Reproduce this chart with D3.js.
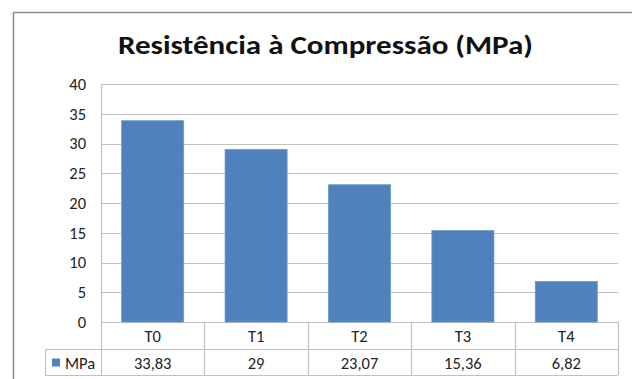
<!DOCTYPE html>
<html>
<head>
<meta charset="utf-8">
<script src="https://cdn.jsdelivr.net/npm/d3@7"></script>
<style>
  body { margin: 0; background: #fff; }
  svg { display: block; }
</style>
</head>
<body>
<div id="chart"></div>
<script>
const categories = ['T0', 'T1', 'T2', 'T3', 'T4']
const values = [33.83, 29, 23.07, 15.36, 6.82]
const valueLabels = ['33,83', '29', '23,07', '15,36', '6,82']
const yTicks = [0, 5, 10, 15, 20, 25, 30, 35, 40]
const seriesName = 'MPa'
const title = 'Resistência à Compressão (MPa)'

const width = 632
const height = 379
const plot = { left: 101, right: 618, top: 84, bottom: 322 }
const font = 'Carlito, Calibri, "Open Sans", sans-serif'
const fontSize = '16.5px'
const barColor = '#4f81bd'
const gridColor = '#c0c0c0'
const textColor = '#222'

const svg = d3.select('#chart')
  .append('svg')
  .attr('width', width)
  .attr('height', height)

// outer chart border (runs off the right/bottom edge)
svg.append('rect')
  .attr('x', 13.5)
  .attr('y', 12.5)
  .attr('width', 700)
  .attr('height', 400)
  .attr('fill', '#fff')
  .attr('stroke', '#8c8c8c')
  .attr('stroke-width', 1.5)

svg.append('text')
  .attr('x', 325.5)
  .attr('y', 54)
  .attr('text-anchor', 'middle')
  .attr('font-family', font)
  .attr('font-size', '26px')
  .attr('font-weight', '700')
  .attr('fill', '#111')
  .attr('textLength', 415)
  .attr('lengthAdjust', 'spacingAndGlyphs')
  .text(title)

const x = d3.scaleBand()
  .domain(categories)
  .range([plot.left, plot.right])
  .paddingInner(0.4)
  .paddingOuter(0.2)

const xCol = d3.scaleBand()
  .domain(categories)
  .range([plot.left, plot.right])

const y = d3.scaleLinear()
  .domain([0, 40])
  .range([plot.bottom, plot.top])

// gridlines
svg.append('g')
  .selectAll('line')
  .data(yTicks)
  .join('line')
  .attr('x1', plot.left)
  .attr('x2', plot.right)
  .attr('y1', d => Math.round(y(d)) + 0.5)
  .attr('y2', d => Math.round(y(d)) + 0.5)
  .attr('stroke', gridColor)
  .attr('stroke-width', 1.2)

// y axis line
svg.append('line')
  .attr('x1', plot.left + 0.5)
  .attr('x2', plot.left + 0.5)
  .attr('y1', plot.top)
  .attr('y2', plot.bottom)
  .attr('stroke', gridColor)
  .attr('stroke-width', 1.2)

// y labels
svg.append('g')
  .selectAll('text')
  .data(yTicks)
  .join('text')
  .attr('x', 86)
  .attr('y', d => y(d))
  .attr('dy', '0.35em')
  .attr('text-anchor', 'end')
  .attr('font-family', font)
  .attr('font-size', fontSize)
  .attr('fill', textColor)
  .text(d => d)

// bars
svg.append('g')
  .selectAll('rect')
  .data(values)
  .join('rect')
  .attr('x', (d, i) => x(categories[i]))
  .attr('y', d => y(d))
  .attr('width', x.bandwidth())
  .attr('height', d => y(0) - y(d))
  .attr('fill', barColor)
  .attr('stroke', '#6f97c9')
  .attr('stroke-width', 0.8)

// data table
const row1 = 349
const row2 = 375
const table = svg.append('g')
  .attr('stroke', gridColor)
  .attr('stroke-width', 1.2)
  .attr('fill', 'none')

table.append('line')
  .attr('x1', 45).attr('x2', plot.right)
  .attr('y1', row1 + 0.5).attr('y2', row1 + 0.5)
table.append('line')
  .attr('x1', 45).attr('x2', plot.right)
  .attr('y1', row2 + 0.5).attr('y2', row2 + 0.5)
table.append('line')
  .attr('x1', 45.5).attr('x2', 45.5)
  .attr('y1', row1).attr('y2', row2)
table.selectAll('line.col')
  .data(categories.concat(['end']))
  .join('line')
  .attr('class', 'col')
  .attr('x1', d => Math.round(d === 'end' ? plot.right : xCol(d)) + 0.5)
  .attr('x2', d => Math.round(d === 'end' ? plot.right : xCol(d)) + 0.5)
  .attr('y1', plot.bottom)
  .attr('y2', row2)

svg.append('g')
  .selectAll('text')
  .data(categories)
  .join('text')
  .attr('x', d => xCol(d) + xCol.bandwidth() / 2)
  .attr('y', (plot.bottom + row1) / 2 + 1)
  .attr('dy', '0.35em')
  .attr('text-anchor', 'middle')
  .attr('font-family', font)
  .attr('font-size', fontSize)
  .attr('fill', textColor)
  .text(d => d)

const row2Mid = (row1 + row2) / 2 + 1
svg.append('g')
  .selectAll('text')
  .data(valueLabels)
  .join('text')
  .attr('x', (d, i) => xCol(categories[i]) + xCol.bandwidth() / 2)
  .attr('y', row2Mid)
  .attr('dy', '0.35em')
  .attr('text-anchor', 'middle')
  .attr('font-family', font)
  .attr('font-size', fontSize)
  .attr('fill', textColor)
  .text(d => d)

// legend key in table
svg.append('rect')
  .attr('x', 52)
  .attr('y', row2Mid - 4.5)
  .attr('width', 8)
  .attr('height', 8)
  .attr('fill', barColor)

svg.append('text')
  .attr('x', 65)
  .attr('y', row2Mid)
  .attr('dy', '0.35em')
  .attr('font-family', font)
  .attr('font-size', fontSize)
  .attr('fill', textColor)
  .text(seriesName)
</script>
</body>
</html>
